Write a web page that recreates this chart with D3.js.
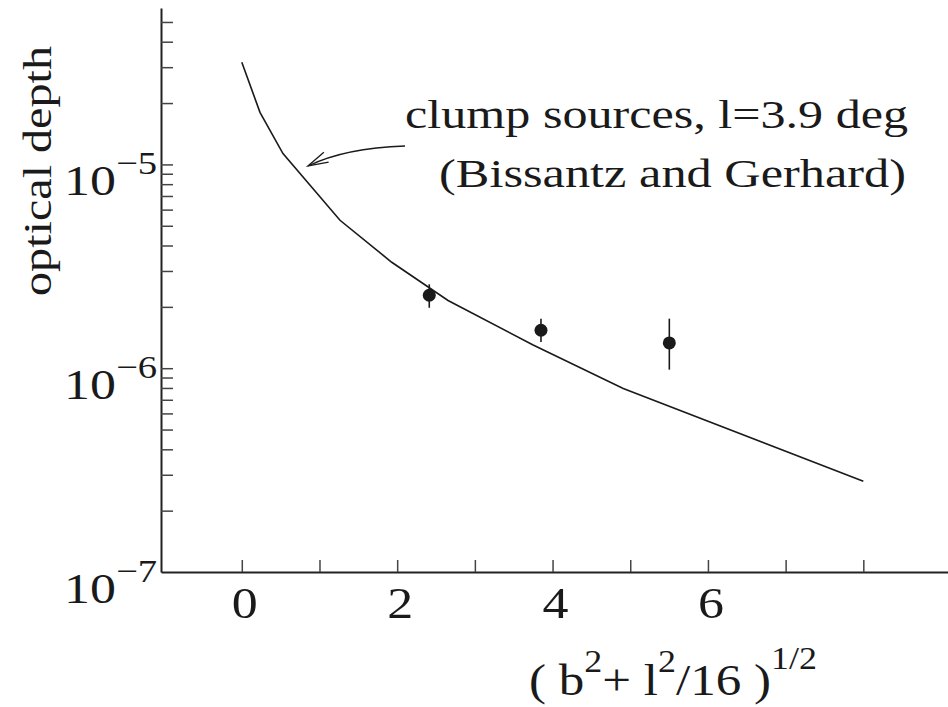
<!DOCTYPE html>
<html>
<head>
<meta charset="utf-8">
<script src="https://cdn.jsdelivr.net/npm/d3@7"></script>
<style>
  html, body { margin: 0; padding: 0; background: #fff; }
  svg { display: block; }
  text { font-family: "Liberation Serif", Tinos, "Times New Roman", Times, "Nimbus Roman", FreeSerif, "DejaVu Serif", serif; fill: #1a1a1a; }
</style>
</head>
<body>
<script>
// ---- data ----
const curveX = [0, 0.234, 0.53, 1.264, 1.93, 2.655, 3.75, 4.91, 8.0];
const curveY = [3.17e-5, 1.80e-5, 1.13e-5, 5.32e-6, 3.31e-6, 2.15e-6, 1.30e-6, 7.96e-7, 2.79e-7];

const pointX  = [2.413, 3.851, 5.503];
const pointY  = [2.28e-6, 1.535e-6, 1.33e-6];
const errLow  = [1.98e-6, 1.345e-6, 9.84e-7];
const errHigh = [2.58e-6, 1.75e-6, 1.75e-6];

const xTickValues = [0, 1, 2, 3, 4, 5, 6, 7, 8];
const xTickLabels = ["0", "2", "4", "6"];
const yDecades = [-7, -6, -5];
const yLabel = "optical depth";
const annotationLines = ["clump sources, l=3.9 deg", "(Bissantz and Gerhard)"];

// ---- layout ----
const W = 948, H = 707;
const mLeft = 161, mRight = 948, mTop = 8, mBottom = 572;

const svg = d3.select("body").append("svg").attr("width", W).attr("height", H);

const x = d3.scaleLinear().domain([-1.04, 9.09]).range([mLeft, mRight]);
const y = d3.scaleLog().domain([1e-7, Math.pow(10, -4.2325)]).range([mBottom, mTop]);

// scale a text horizontally (in its own frame) so its width matches a target
function fitGroup(g, tx, ty, targetW, rot) {
  const t = g.select("text");
  const w = t.node().getBBox().width;
  const s = w > 0 ? targetW / w : 1;
  g.attr("transform", `translate(${tx},${ty})` + (rot ? ` rotate(${rot})` : "") + ` scale(${s},1)`);
}

// y minor/major ticks
const yTicks = [];
yDecades.forEach(d => {
  for (let k = 1; k <= 9; k++) {
    const v = k * Math.pow(10, d);
    if (v > 1e-7 && v <= y.domain()[1]) yTicks.push(v);
  }
});

const yAxis = d3.axisRight(y).tickValues(yTicks).tickSize(12).tickSizeOuter(0).tickFormat("");
const gy = svg.append("g").attr("transform", `translate(${mLeft},0)`).call(yAxis);
gy.select(".domain").attr("stroke", "#222").attr("stroke-width", 2);
gy.selectAll(".tick line").attr("stroke", "#444").attr("stroke-width", 1.5);

const xAxis = d3.axisTop(x).tickValues(xTickValues).tickSize(12).tickSizeOuter(0).tickFormat("");
const gx = svg.append("g").attr("transform", `translate(0,${mBottom})`).call(xAxis);
gx.select(".domain").attr("stroke", "#222").attr("stroke-width", 2);
gx.selectAll(".tick line").attr("stroke", "#444").attr("stroke-width", 1.5);

// x tick labels
xTickLabels.forEach(t => {
  const g = svg.append("g");
  g.append("text").attr("text-anchor", "middle").attr("font-size", 45).text(t);
  fitGroup(g, x(+t) + 3, 618, 26);
});

// y tick labels 10^n
yDecades.forEach(d => {
  const g = svg.append("g");
  const t = g.append("text").attr("text-anchor", "end").attr("font-size", 43);
  t.append("tspan").text("10");
  t.append("tspan").attr("font-size", 32).attr("dy", -21).text("\u2212" + Math.abs(d));
  fitGroup(g, 157, y(Math.pow(10, d)) + 31, 93);
});

// y label
{
  const g = svg.append("g");
  g.append("text").attr("text-anchor", "middle").attr("font-size", 40).text(yLabel);
  fitGroup(g, 51, 171, 250, -90);
}

// x label
{
  const g = svg.append("g");
  const t = g.append("text").attr("font-size", 44);
  t.append("tspan").text("( b");
  t.append("tspan").attr("font-size", 31).attr("dy", -23).text("2");
  t.append("tspan").attr("dy", 23).text("+ l");
  t.append("tspan").attr("font-size", 31).attr("dy", -23).text("2");
  t.append("tspan").attr("dy", 23).text("/16 )");
  t.append("tspan").attr("font-size", 31).attr("dy", -26).text("1/2");
  fitGroup(g, 529, 695, 288);
}

// model curve
const line = d3.line().x(d => x(d[0])).y(d => y(d[1]));
svg.append("path")
  .datum(curveX.map((v, i) => [v, curveY[i]]))
  .attr("d", line).attr("fill", "none").attr("stroke", "#1a1a1a").attr("stroke-width", 1.6);

// error bars + points
svg.selectAll(".err").data(pointX).enter().append("line")
  .attr("x1", d => x(d)).attr("x2", d => x(d))
  .attr("y1", (d, i) => y(errLow[i])).attr("y2", (d, i) => y(errHigh[i]))
  .attr("stroke", "#1a1a1a").attr("stroke-width", 1.6);
svg.selectAll(".pt").data(pointX).enter().append("circle")
  .attr("cx", d => x(d)).attr("cy", (d, i) => y(pointY[i])).attr("r", 6.5)
  .attr("fill", "#1a1a1a");

// annotation
{
  const g1 = svg.append("g");
  g1.append("text").attr("text-anchor", "end").attr("font-size", 41).text(annotationLines[0]);
  fitGroup(g1, 908, 128, 503);
  const g2 = svg.append("g");
  g2.append("text").attr("text-anchor", "end").attr("font-size", 41).text(annotationLines[1]);
  fitGroup(g2, 906, 187, 467);
}

// arrow
{
  const p0 = [405, 146], c = [345, 148], p1 = [308, 166];
  svg.append("path").attr("d", `M${p0[0]},${p0[1]} Q${c[0]},${c[1]} ${p1[0]},${p1[1]}`)
    .attr("fill", "none").attr("stroke", "#1a1a1a").attr("stroke-width", 1.3);
  const dx = c[0] - p1[0], dy = c[1] - p1[1];
  const ang = Math.atan2(dy, dx);
  const L = 21, a = 15 * Math.PI / 180;
  const b1 = [p1[0] + L * Math.cos(ang - a), p1[1] + L * Math.sin(ang - a)];
  const b2 = [p1[0] + L * Math.cos(ang + a), p1[1] + L * Math.sin(ang + a)];
  svg.append("path").attr("d", `M${b1[0]},${b1[1]} L${p1[0]},${p1[1]} L${b2[0]},${b2[1]}`)
    .attr("fill", "none").attr("stroke", "#1a1a1a").attr("stroke-width", 1.3);
}
</script>
</body>
</html>
